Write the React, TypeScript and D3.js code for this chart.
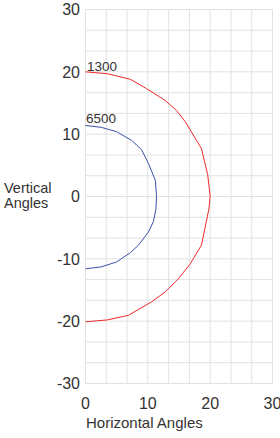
import React from "react";
import * as d3 from "d3";

const xTicks = [0, 10, 20, 30];
const yTicks = [30, 20, 10, 0, -10, -20, -30];

const series1300Label = "1300";
const series1300: [number, number][] = [
  [0, 20], [3.5, 19.7], [7.2, 18.8], [9.8, 17.3], [12.8, 15.4], [14.6, 13.8],
  [16, 12], [18.6, 7.7], [19.6, 3.5], [20, 0], [19.8, -2], [18.6, -7.8],
  [16.8, -10.8], [14.9, -13.2], [12.8, -15.3], [10.6, -16.9], [6.9, -19.05],
  [3.5, -19.8], [0, -20.1],
];

const series6500Label = "6500";
const series6500: [number, number][] = [
  [0, 11.4], [2.5, 11.1], [5, 10.4], [7.4, 9.0], [9, 7.5], [10.1, 5.3],
  [11.2, 2.6], [11.4, 0], [11.3, -2], [10.9, -4], [10.1, -5.7], [8.5, -7.8],
  [7.2, -9], [5, -10.5], [2.5, -11.3], [0, -11.6],
];

const xTitle = "Horizontal Angles";
const yTitleLines = ["Vertical", "Angles"];

export default function App() {
  const W = 280, H = 438;
  const x = d3.scaleLinear().domain([0, 30]).range([85.5, 272.5]);
  const y = d3.scaleLinear().domain([-30, 30]).range([383.5, 9.5]);
  const line = d3.line<[number, number]>().x(d => x(d[0])).y(d => y(d[1]));
  const xGrid = d3.range(0, 10).map(i => i * 10 / 3);
  const yGrid = d3.range(0, 19).map(i => -30 + i * 10 / 3);
  const font = "Arial, 'Liberation Sans', sans-serif";
  const txt = "#333";
  const grid = "#e2e2e2";
  return (
    <svg width={W} height={H} style={{ position: "absolute", left: 0, top: 0 }} fontFamily={font}>
      <rect width={W} height={H} fill="#fff" />
      {xGrid.map((v, i) => (
        <line key={"xg" + i} x1={x(v)} x2={x(v)} y1={y(30)} y2={y(-30)} stroke={grid} strokeWidth={1} />
      ))}
      {yGrid.map((v, i) => (
        <line key={"yg" + i} x1={x(0)} x2={x(30)} y1={y(v)} y2={y(v)} stroke={grid} strokeWidth={1} />
      ))}
      <path d={line(series1300) || ""} fill="none" stroke="#ee2a2a" strokeWidth={1} />
      <path d={line(series6500) || ""} fill="none" stroke="#3a52a8" strokeWidth={1} />
      <text x={x(series1300[0][0]) + 1.5} y={y(series1300[0][1]) - 1} fontSize={13.5} fill={txt}>{series1300Label}</text>
      <text x={x(series6500[0][0]) + 0.5} y={y(series6500[0][1]) - 2} fontSize={13.5} fill={txt}>{series6500Label}</text>
      {yTicks.map(t => (
        <text key={"yt" + t} x={80} y={y(t)} dy="0.36em" textAnchor="end" fontSize={16} fill={txt}>{t}</text>
      ))}
      {xTicks.map(t => (
        <text key={"xt" + t} x={x(t)} y={409} textAnchor="middle" fontSize={16} fill={txt}>{t}</text>
      ))}
      <text x={86} y={428} fontSize={15} fill={txt}>{xTitle}</text>
      {yTitleLines.map((s, i) => (
        <text key={"ytl" + i} x={4} y={192.5 + i * 15.5} fontSize={14.5} fill={txt}>{s}</text>
      ))}
    </svg>
  );
}
